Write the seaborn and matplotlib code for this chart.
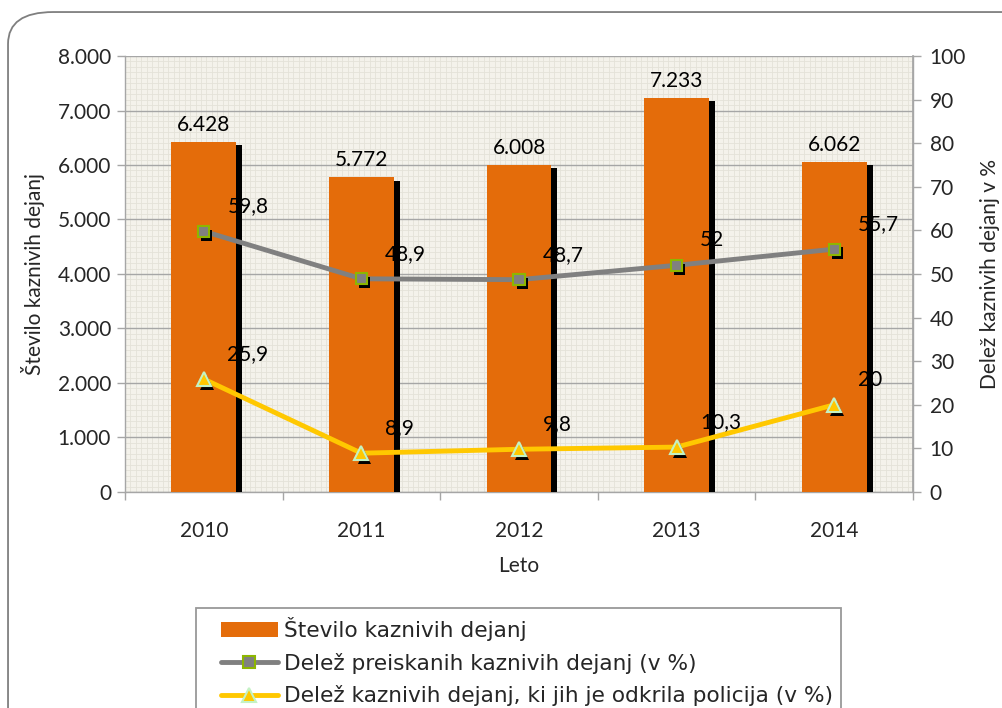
import numpy as np
import pandas as pd
import matplotlib
matplotlib.use("Agg")
import matplotlib.pyplot as plt
import matplotlib.patheffects as pe
from matplotlib.ticker import FuncFormatter, MultipleLocator, FixedLocator
from matplotlib.patches import FancyBboxPatch
from matplotlib.lines import Line2D
from matplotlib.patches import Patch
from matplotlib.legend_handler import HandlerPatch, HandlerLine2D
import seaborn as sns

# ---- data ----
years = ["2010", "2011", "2012", "2013", "2014"]
counts = [6428, 5772, 6008, 7233, 6062]
share_investigated = [59.8, 48.9, 48.7, 52, 55.7]
share_police = [25.9, 8.9, 9.8, 10.3, 20]

label_bars = "Število kaznivih dejanj"
label_inv = "Delež preiskanih kaznivih dejanj (v %)"
label_pol = "Delež kaznivih dejanj, ki jih je odkrila policija (v %)"
xlabel = "Leto"
ylabel_left = "Število kaznivih dejanj"
ylabel_right = "Delež kaznivih dejanj v %"

sns.set_theme(style="white")
plt.rcParams['font.family'] = ['Lato', 'DejaVu Sans']

ORANGE = "#E46C0A"
GRAY = "#808080"
YELLOW = "#FFC800"
GRID = "#A6A6A6"
BG = "#F4F2EB"
FS = 15
LW = 3.5

fig = plt.figure(figsize=(10.03, 7.08), dpi=100)

# figure rounded border
border = FancyBboxPatch((0.008, -0.1), 1.2, 1.083, boxstyle="round,pad=0,rounding_size=0.045",
                        transform=fig.transFigure, fc="none", ec="#7F7F7F", lw=1.3,
                        zorder=-5)
fig.patches.append(border)

pos = [0.1246, 0.3051, 0.9103 - 0.1246, 0.9209 - 0.3051]

# background fine grid
ax_bg = fig.add_axes(pos, zorder=0)
ax_bg.set_facecolor(BG)
ax_bg.set_xlim(0, 1)
ax_bg.set_ylim(0, 1)
ax_bg.xaxis.set_major_locator(MultipleLocator(1 / 145))
ax_bg.yaxis.set_major_locator(MultipleLocator(1 / 80))
ax_bg.grid(True, color="#E4E2D8", lw=0.6)
ax_bg.tick_params(length=0, labelbottom=False, labelleft=False)
for s in ax_bg.spines.values():
    s.set_visible(False)

ax = fig.add_axes(pos, zorder=1)
ax.patch.set_alpha(0)

df = pd.DataFrame({"year": years, "count": counts})
sns.barplot(data=df, x="year", y="count", ax=ax, color=ORANGE, saturation=1,
            width=0.41, zorder=3, linewidth=0, edgecolor="none")
for p in ax.patches:
    p.set_path_effects([pe.SimplePatchShadow(offset=(4.3, -2.3), shadow_rgbFace="black",
                                             alpha=1.0), pe.Normal()])
ax.bar_label(ax.containers[0], labels=[f"{v:,}".replace(",", ".") for v in counts],
             padding=5, fontsize=FS, color="black")

ax.set_ylim(0, 8000)
ax.set_xlim(-0.5, len(years) - 0.5)
ax.yaxis.set_major_locator(MultipleLocator(1000))
ax.yaxis.set_major_formatter(FuncFormatter(lambda v, p: f"{int(v):,}".replace(",", ".")))
ax.grid(True, axis="y", color=GRID, lw=1.0, zorder=0)
ax.set_axisbelow(True)
ax.xaxis.set_major_locator(FixedLocator(np.arange(len(years) + 1) - 0.5))
ax.xaxis.set_minor_locator(FixedLocator(np.arange(len(years))))
ax.set_xticklabels([""] * (len(years) + 1))
ax.set_xticklabels(years, minor=True)
ax.tick_params(axis="x", which="major", length=6, color=GRID, width=1, direction="out")
ax.tick_params(axis="x", which="minor", length=0, labelsize=FS, pad=21)
ax.tick_params(axis="y", length=6, color=GRID, width=1, direction="out", labelsize=FS, pad=4)
ax.tick_params(axis="x", which="both", bottom=True)
ax.spines["top"].set_visible(False)
for side in ["left", "bottom", "right"]:
    ax.spines[side].set_color(GRID)
    ax.spines[side].set_linewidth(1.0)
ax.set_xlabel(xlabel, fontsize=FS, labelpad=11)
ax.set_ylabel(ylabel_left, fontsize=FS, labelpad=9)

ax2 = ax.twinx()
ax2.set_ylim(0, 100)
ax2.yaxis.set_major_locator(MultipleLocator(10))
ax2.tick_params(axis="y", length=6, color=GRID, width=1, direction="out", labelsize=FS, pad=6)
for side in ["top", "left", "bottom"]:
    ax2.spines[side].set_visible(False)
ax2.spines["right"].set_color(GRID)
ax2.set_ylabel(ylabel_right, fontsize=FS, labelpad=10)

xs = np.arange(len(years))

for vals, col, mk, mec, ms in [
    (share_investigated, GRAY, "s", "#8DB600", 8),
    (share_police, YELLOW, "^", "#C4F2C4", 10),
]:
    sns.lineplot(x=xs, y=vals, ax=ax2, color=col, lw=LW, zorder=4)
    sns.lineplot(x=xs, y=vals, ax=ax2, color=col, linestyle="", marker=mk, markersize=ms,
                 markerfacecolor=col, markeredgecolor=mec, markeredgewidth=1.5, zorder=5)
    ax2.lines[-1].set_linestyle("None")
    ax2.lines[-1].set_path_effects([pe.SimplePatchShadow(offset=(2.2, -2.8), shadow_rgbFace="black", alpha=1.0), pe.Normal()])
    for x, v in zip(xs, vals):
        txt = f"{v:g}".replace(".", ",")
        ax2.annotate(txt, (x, v), xytext=(17, 18), textcoords="offset points",
                     ha="left", va="center", fontsize=FS, color="black", zorder=6)

ax.set_zorder(1)
ax2.set_zorder(2)

# legend
LFS = 15.6
handles = [
    Patch(facecolor=ORANGE, edgecolor="none"),
    Line2D([], [], color=GRAY, lw=LW, marker="s", markersize=8, markerfacecolor=GRAY,
           markeredgecolor="#8DB600", markeredgewidth=1.5, solid_capstyle="round"),
    Line2D([], [], color=YELLOW, lw=LW, marker="^", markersize=10, markerfacecolor=YELLOW,
           markeredgecolor="#C4F2C4", markeredgewidth=1.5, solid_capstyle="round"),
]
hmap = {Patch: HandlerPatch(xpad=0.74), Line2D: HandlerLine2D(xpad=0.74)}
leg = fig.legend(handles, [label_bars, label_inv, label_pol], loc="upper left",
                 bbox_to_anchor=(196 / 1003, 1 - 608 / 708), frameon=True, fancybox=False,
                 prop={"family": "DejaVu Sans", "size": LFS}, handler_map=hmap,
                 handlelength=3.37, handleheight=0.7, handletextpad=0.28,
                 borderpad=0.4, labelspacing=0.55, borderaxespad=0)
leg.get_frame().set_edgecolor("#7F7F7F")
leg.get_frame().set_linewidth(1.3)

fig.savefig("out.png", dpi=100)
